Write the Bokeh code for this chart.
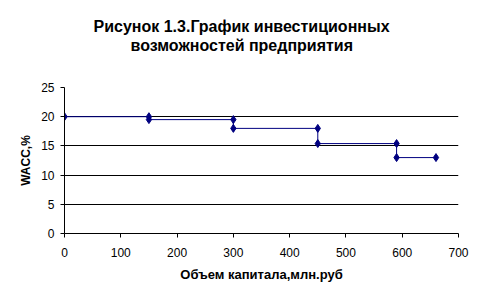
from bokeh.plotting import figure
from bokeh.models import ColumnDataSource, FixedTicker, Range1d, Title
from bokeh.embed import file_html
from bokeh.resources import INLINE

capital = [0, 150, 150, 300, 300, 450, 450, 590, 590, 660]
wacc = [20, 20, 19.5, 19.5, 18, 18, 15.4, 15.4, 13, 13]
x_ticks = [0, 100, 200, 300, 400, 500, 600, 700]
y_ticks = [0, 5, 10, 15, 20, 25]
grid_levels = [5, 10, 15, 20]
title_line1 = "Рисунок 1.3.График инвестиционных"
title_line2 = "возможностей предприятия"

FONT = "Liberation Sans"
NAVY = "#000080"

src = ColumnDataSource(data=dict(x=capital, y=wacc))

p = figure(width=486, height=303, output_backend="svg", toolbar_location=None,
           x_range=Range1d(0, 700), y_range=Range1d(0, 25),
           min_border_left=64, min_border_right=28, min_border_top=87, min_border_bottom=70)

# spacer between the title block and the plot frame (closest to frame)
p.add_layout(Title(text=" ", text_font_size="1px", standoff=29.5), "above")
# second title line
p.add_layout(Title(text=title_line2, align="left", offset=66, text_font=FONT,
                   text_font_size="16px", text_font_style="bold", text_color="black",
                   standoff=1), "above")
# first title line (outermost)
p.title.text = title_line1
p.title.align = "left"
p.title.offset = 29
p.title.text_font = FONT
p.title.text_font_size = "16px"
p.title.text_font_style = "bold"
p.title.text_color = "black"
p.title.standoff = 0

p.outline_line_color = None
p.background_fill_color = "white"
p.border_fill_color = "white"

p.line("x", "y", source=src, line_color=NAVY, line_width=1)
p.scatter("x", "y", source=src, marker="diamond", size=8, fill_color=NAVY, line_color=NAVY)

p.xgrid.visible = False
p.ygrid.ticker = FixedTicker(ticks=grid_levels)
p.ygrid.grid_line_color = "black"
p.ygrid.grid_line_width = 1

for ax in (p.xaxis[0], p.yaxis[0]):
    ax.axis_line_color = "black"
    ax.major_tick_line_color = "black"
    ax.major_tick_out = 4
    ax.major_tick_in = 0
    ax.minor_tick_line_color = None
    ax.major_label_text_font = FONT
    ax.major_label_text_font_size = "12px"
    ax.major_label_text_color = "black"
    ax.axis_label_text_font = FONT
    ax.axis_label_text_font_style = "bold"
    ax.axis_label_text_color = "black"

p.xaxis.axis_label_text_font_size = "13px"
p.yaxis.axis_label_text_font_size = "12px"
p.xaxis.ticker = FixedTicker(ticks=x_ticks)
p.yaxis.ticker = FixedTicker(ticks=y_ticks)
p.xaxis.axis_label = "Объем капитала,млн.руб"
p.yaxis.axis_label = "WACC,%"
p.xaxis.major_label_standoff = 10
p.yaxis.major_label_standoff = 6
p.xaxis.axis_label_standoff = 7
p.yaxis.axis_label_standoff = 5

open("out.html", "w").write(file_html(p, INLINE))
